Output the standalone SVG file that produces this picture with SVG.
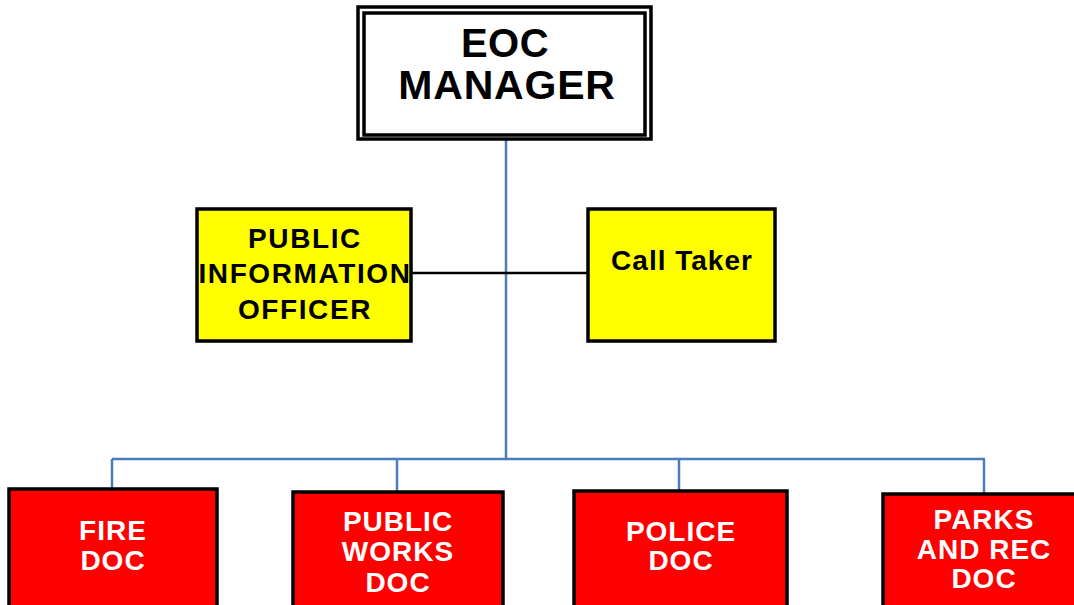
<svg xmlns="http://www.w3.org/2000/svg" width="1074" height="605" viewBox="0 0 1074 605">
  <style>
    .lbl { font-family: "Liberation Sans", Arial, sans-serif; font-weight: bold; text-anchor: middle; }
    .dark { fill: #000000; }
    .light { fill: #ffffff; letter-spacing: 1px; }
    .yellow { fill: #ffff00; stroke: #000000; stroke-width: 3.5; }
    .red { fill: #ff0000; stroke: #000000; stroke-width: 3.5; }
    .blue { fill: none; stroke: #4a7ebb; stroke-width: 2.5; }
    .black { fill: none; stroke: #000000; stroke-width: 2.5; }
  </style>
  <rect width="1074" height="605" fill="#ffffff"/>

  <g id="connectors">
    <path class="blue" d="M506 140 V459"/>
    <path class="blue" d="M112 459 H985"/>
    <path class="blue" d="M112 459 V489"/>
    <path class="blue" d="M397 459 V492"/>
    <path class="blue" d="M679 459 V491"/>
    <path class="blue" d="M984 459 V494"/>
    <path class="black" d="M411 273 H587"/>
  </g>

  <g id="eoc-manager">
    <rect x="358" y="7" width="293" height="132" fill="#ffffff" stroke="#000000" stroke-width="3.5"/>
    <rect x="364" y="13" width="281" height="122" fill="none" stroke="#000000" stroke-width="3.5"/>
    <text class="lbl dark" x="505" y="57" font-size="40" letter-spacing="0.5">EOC</text>
    <text class="lbl dark" x="507" y="99" font-size="41" letter-spacing="0.8">MANAGER</text>
  </g>

  <g id="public-information-officer">
    <rect class="yellow" x="197" y="209" width="214" height="132"/>
    <text class="lbl dark" x="305" y="248" font-size="28" letter-spacing="1.6">PUBLIC</text>
    <text class="lbl dark" x="305" y="283" font-size="28" letter-spacing="1.6">INFORMATION</text>
    <text class="lbl dark" x="305" y="319" font-size="28" letter-spacing="1.6">OFFICER</text>
  </g>

  <g id="call-taker">
    <rect class="yellow" x="588" y="209" width="187" height="132"/>
    <text class="lbl dark" x="682" y="270" font-size="28" letter-spacing="1">Call Taker</text>
  </g>

  <g id="fire-doc">
    <rect class="red" x="9" y="489" width="208" height="130"/>
    <text class="lbl light" x="113" y="540" font-size="28">FIRE</text>
    <text class="lbl light" x="113" y="570" font-size="28">DOC</text>
  </g>

  <g id="public-works-doc">
    <rect class="red" x="293" y="492" width="210" height="130"/>
    <text class="lbl light" x="398" y="531" font-size="28">PUBLIC</text>
    <text class="lbl light" x="398" y="561" font-size="28">WORKS</text>
    <text class="lbl light" x="398" y="592" font-size="28">DOC</text>
  </g>

  <g id="police-doc">
    <rect class="red" x="574" y="491" width="213" height="130"/>
    <text class="lbl light" x="681" y="541" font-size="28">POLICE</text>
    <text class="lbl light" x="681" y="570" font-size="28">DOC</text>
  </g>

  <g id="parks-and-rec-doc">
    <rect class="red" x="883" y="494" width="200" height="130"/>
    <text class="lbl light" x="984" y="529" font-size="28">PARKS</text>
    <text class="lbl light" x="984" y="559" font-size="28">AND REC</text>
    <text class="lbl light" x="984" y="588" font-size="28">DOC</text>
  </g>
</svg>
